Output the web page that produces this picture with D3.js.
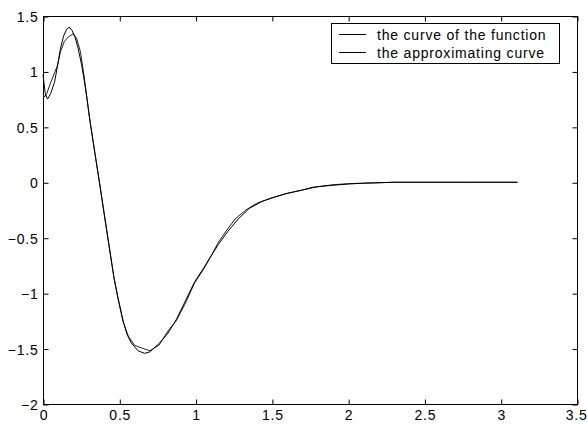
<!DOCTYPE html>
<html>
<head>
<meta charset="utf-8">
<script src="https://cdn.jsdelivr.net/npm/d3@7"></script>
<style>
html,body{margin:0;padding:0;background:#fff;}
svg{display:block;}
text{font-family:"Liberation Sans",Arial,sans-serif;fill:#000;}
</style>
</head>
<body>
<svg id="chart" width="587" height="425"></svg>
<script>
// ---- data ----
const xTicks = [0, 0.5, 1, 1.5, 2, 2.5, 3, 3.5];
const yTicks = [-2, -1.5, -1, -0.5, 0, 0.5, 1, 1.5];
const seriesNames = ["the curve of the function", "the approximating curve"];

const funcX = [0, 0.015, 0.03, 0.05, 0.075, 0.094, 0.115, 0.135, 0.155, 0.172, 0.19, 0.21, 0.23, 0.253, 0.27, 0.29, 0.31, 0.34, 0.37, 0.4, 0.43, 0.465, 0.49, 0.525, 0.55, 0.579, 0.623, 0.666, 0.7, 0.764, 0.82, 0.873, 0.93, 0.993, 1.05, 1.09, 1.15, 1.21, 1.28, 1.352, 1.44, 1.526, 1.6, 1.7, 1.766, 1.875, 2.005, 2.09, 2.29, 2.5, 2.8, 3.11];
const funcY = [0.97, 0.8, 0.75, 0.8, 0.9, 1.04, 1.21, 1.32, 1.38, 1.40, 1.37, 1.31, 1.21, 1.06, 0.92, 0.74, 0.53, 0.27, 0.0, -0.27, -0.54, -0.86, -1.03, -1.25, -1.37, -1.45, -1.52, -1.543, -1.53, -1.45, -1.36, -1.24, -1.08, -0.9, -0.78, -0.69, -0.56, -0.446, -0.33, -0.235, -0.17, -0.13, -0.1, -0.07, -0.045, -0.03, -0.015, -0.009, 0, 0, 0, 0];

const apprX = [0, 0.01, 0.025, 0.045, 0.065, 0.094, 0.115, 0.14, 0.165, 0.198, 0.22, 0.245, 0.27, 0.3, 0.34, 0.37, 0.4, 0.43, 0.465, 0.49, 0.525, 0.56, 0.6, 0.651, 0.7, 0.76, 0.82, 0.873, 0.93, 0.993, 1.05, 1.1, 1.15, 1.2, 1.26, 1.33, 1.4, 1.5, 1.6, 1.7, 1.8, 1.9, 2.0, 2.1, 2.3, 2.5, 2.8, 3.11];
const apprY = [0.8, 0.77, 0.8, 0.88, 0.95, 1.05, 1.18, 1.27, 1.31, 1.34, 1.30, 1.18, 0.95, 0.63, 0.26, 0.0, -0.28, -0.55, -0.86, -1.04, -1.26, -1.39, -1.47, -1.497, -1.52, -1.47, -1.34, -1.25, -1.1, -0.91, -0.79, -0.67, -0.54, -0.44, -0.33, -0.25, -0.19, -0.14, -0.1, -0.07, -0.04, -0.022, -0.013, -0.008, 0, 0, 0, 0];

// ---- layout ----
const svg = d3.select("#chart");
const L = 43, R = 577, T = 16, B = 404;
const x = d3.scaleLinear().domain([0, 3.5]).range([L, R]);
const y = d3.scaleLinear().domain([-2, 1.5]).range([B, T]);
const FONT = 14, LS = 0.8;

// frame
svg.append("rect").attr("x", L + 0.5).attr("y", T + 0.5)
  .attr("width", R - L).attr("height", B - T)
  .attr("fill", "none").attr("stroke", "#000").attr("stroke-width", 1);

const tickLen = 5;
const xb = svg.append("g").attr("transform", `translate(0.5,${B + 0.5})`)
  .call(d3.axisBottom(x).tickValues(xTicks).tickSizeInner(-tickLen).tickSizeOuter(0).tickPadding(6).tickFormat(d3.format("")));
const xt = svg.append("g").attr("transform", `translate(0.5,${T + 0.5})`)
  .call(d3.axisTop(x).tickValues(xTicks).tickSizeInner(-tickLen).tickSizeOuter(0).tickFormat(""));
const yl = svg.append("g").attr("transform", `translate(${L + 0.5},0.5)`)
  .call(d3.axisLeft(y).tickValues(yTicks).tickSizeInner(-tickLen).tickSizeOuter(0).tickPadding(5).tickFormat(d3.format("")));
const yr = svg.append("g").attr("transform", `translate(${R + 0.5},0.5)`)
  .call(d3.axisRight(y).tickValues(yTicks).tickSizeInner(-tickLen).tickSizeOuter(0).tickFormat(""));
[xb, xt, yl, yr].forEach(g => {
  g.attr("font-size", null).attr("font-family", null);
  g.select(".domain").remove();
  g.selectAll(".tick line").attr("stroke", "#000");
  g.selectAll("text").attr("font-size", FONT).attr("letter-spacing", LS)
    .attr("font-family", "Liberation Sans, Arial, sans-serif").attr("fill", "#000");
});
xb.selectAll("text").attr("dy", "0.71em");
// keep the last x label inside the window edge
xb.selectAll(".tick").filter(d => d === xTicks[xTicks.length - 1])
  .select("text").attr("text-anchor", "end").attr("x", 9.5);
yl.selectAll("text").attr("dy", "0.36em");

// curves
const line = d3.line().x(d => x(d[0])).y(d => y(d[1]));
const funcData = funcX.map((v, i) => [v, funcY[i]]);
const apprData = apprX.map((v, i) => [v, apprY[i]]);
svg.append("path").datum(apprData).attr("d", line)
  .attr("fill", "none").attr("stroke", "#222").attr("stroke-width", 1);
svg.append("path").datum(funcData).attr("d", line)
  .attr("fill", "none").attr("stroke", "#000").attr("stroke-width", 1);

// legend
const lg = svg.append("g");
lg.append("rect").attr("x", 331.5).attr("y", 23.5).attr("width", 228).attr("height", 40)
  .attr("fill", "#fff").attr("stroke", "#000").attr("stroke-width", 1);
seriesNames.forEach((name, i) => {
  const yy = 34.5 + i * 18;
  lg.append("line").attr("x1", 339).attr("x2", 366).attr("y1", yy).attr("y2", yy)
    .attr("stroke", "#000").attr("stroke-width", 1);
  lg.append("text").attr("x", 377).attr("y", yy + 5)
    .attr("font-size", FONT).attr("letter-spacing", LS).text(name);
});
</script>
</body>
</html>
